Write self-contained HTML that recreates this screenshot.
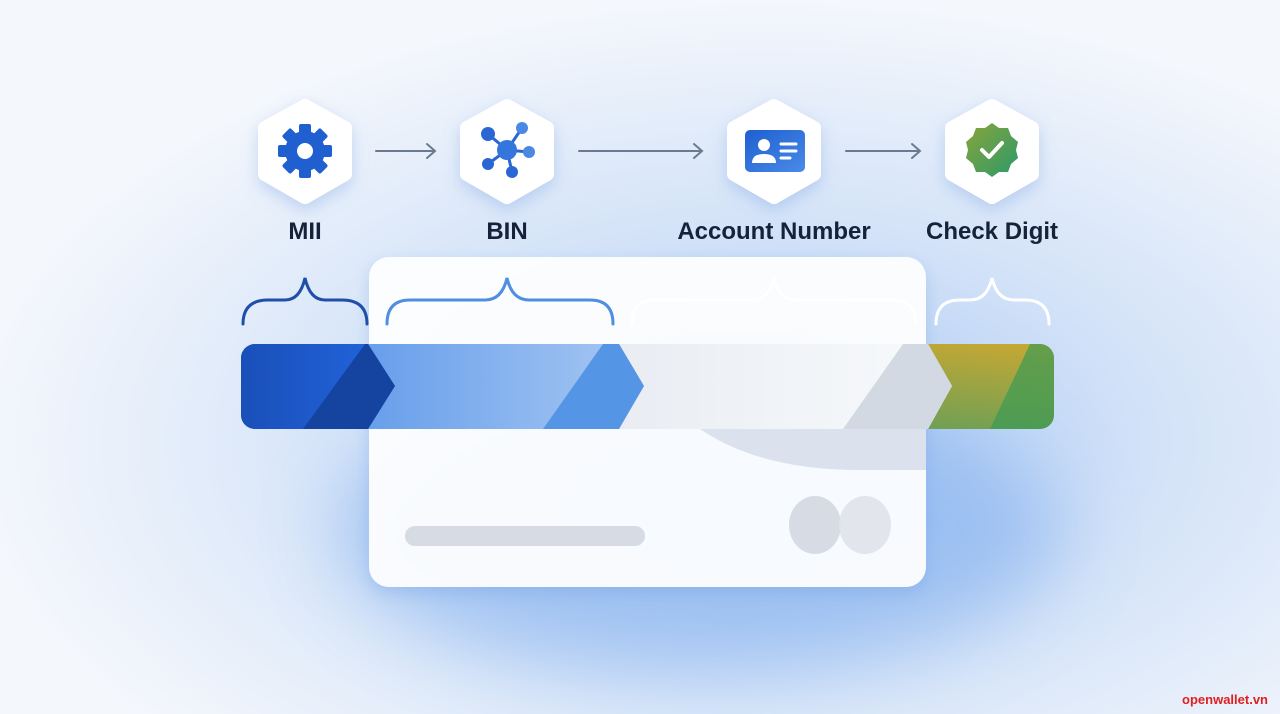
<!DOCTYPE html>
<html><head><meta charset="utf-8"><style>
html,body{margin:0;padding:0;width:1280px;height:714px;overflow:hidden}
body{background:#eef3fb;font-family:"Liberation Sans",sans-serif}
</style></head><body>
<svg width="1280" height="714" viewBox="0 0 1280 714" xmlns="http://www.w3.org/2000/svg">
<defs>
<radialGradient id="bg" cx="0.6" cy="0.62" r="0.62">
<stop offset="0" stop-color="#a8c8f4"/><stop offset="0.5" stop-color="#d4e3f8"/><stop offset="1" stop-color="#f4f7fc"/></radialGradient>
<filter id="blur" x="-50%" y="-50%" width="200%" height="200%"><feGaussianBlur stdDeviation="40"/></filter>
<filter id="sh" x="-50%" y="-50%" width="200%" height="200%"><feDropShadow dx="0" dy="6" stdDeviation="8" flood-color="#6d9be0" flood-opacity="0.35"/></filter>
<linearGradient id="mii" x1="0" x2="1"><stop offset="0" stop-color="#1a4fb8"/><stop offset="1" stop-color="#2266e0"/></linearGradient>
<linearGradient id="bin" x1="0" x2="1"><stop offset="0" stop-color="#4a8ce8"/><stop offset="1" stop-color="#a8c8f2"/></linearGradient>
<linearGradient id="acc" x1="0" x2="1"><stop offset="0" stop-color="#d8dee8"/><stop offset="1" stop-color="#f8fafc"/></linearGradient>
<linearGradient id="chk" x1="0" y1="1" x2="1" y2="0"><stop offset="0" stop-color="#2c9a6e"/><stop offset="1" stop-color="#c9a832"/></linearGradient>
<linearGradient id="badge" x1="0" y1="0" x2="1" y2="1"><stop offset="0" stop-color="#8aa43a"/><stop offset="1" stop-color="#2a9a6a"/></linearGradient>
<linearGradient id="idc" x1="0" y1="0" x2="1" y2="1"><stop offset="0" stop-color="#1d5fd0"/><stop offset="1" stop-color="#4a8ae8"/></linearGradient>
<clipPath id="barclip"><rect x="241" y="344" width="813" height="85" rx="14"/></clipPath>
</defs>
<rect width="1280" height="714" fill="url(#bg)"/>
<ellipse cx="700" cy="530" rx="360" ry="140" fill="#8fb8f0" opacity="0.75" filter="url(#blur)"/>

<!-- card -->
<rect x="369" y="257" width="557" height="330" rx="20" fill="#ffffff" opacity="0.93" filter="url(#sh)"/>
<rect x="405" y="526" width="240" height="20" rx="10" fill="#d6dbe4"/>
<ellipse cx="815" cy="525" rx="26" ry="29" fill="#d6dbe4"/>
<ellipse cx="865" cy="525" rx="26" ry="29" fill="#dfe3ea" opacity="0.9"/>
<path d="M700 429 Q760 470 860 470 L926 470 L926 429 Z" fill="#c8d2e2" opacity="0.6"/>

<!-- bar -->
<g clip-path="url(#barclip)">
<rect x="241" y="344" width="813" height="85" fill="url(#chk)"/>
<polygon points="1054,344 1030,344 990,429 1054,429" fill="#3a9a56" opacity="0.7"/>
<polygon points="241,344 928,344 952,386 928,429 241,429" fill="url(#acc)"/>
<polygon points="903,344 928,344 952,386 928,429 843,429" fill="#d3d9e2"/>
<polygon points="241,344 619,344 644,386 619,429 241,429" fill="url(#bin)"/>
<polygon points="603,344 619,344 644,386 619,429 543,429" fill="#5595e6"/>
<polygon points="241,344 368,344 395,386 368,429 241,429" fill="url(#mii)"/>
<polygon points="365,344 368,344 395,386 368,429 303,429" fill="#1444a0"/>
</g>

<!-- braces -->
<g fill="none" stroke-width="3" stroke-linecap="round">
<path d="M243 324 Q243 300 268 300 L285 300 Q300 300 305 278 Q310 300 325 300 L342 300 Q367 300 367 324" stroke="#1f4fa8"/>
<path d="M387 324 Q387 300 410 300 L485 300 Q502 300 507 278 Q512 300 529 300 L590 300 Q613 300 613 324" stroke="#4f8ee0"/>
<path d="M632 324 Q632 300 655 300 L752 300 Q769 300 774 278 Q779 300 796 300 L893 300 Q916 300 916 324" stroke="#ffffff"/>
<path d="M936 324 Q936 300 960 300 L970 300 Q987 300 992 278 Q997 300 1014 300 L1025 300 Q1049 300 1049 324" stroke="#ffffff"/>
</g>

<!-- arrows -->
<g stroke="#6b7a90" stroke-width="2" fill="none" stroke-linecap="round">
<path d="M376 151 H435 M427 144 L435 151 L427 158"/>
<path d="M579 151 H702 M694 144 L702 151 L694 158"/>
<path d="M846 151 H920 M912 144 L920 151 L912 158"/>
</g>

<!-- hexagons -->
<g fill="#ffffff" filter="url(#sh)" stroke="#ffffff" stroke-width="14" stroke-linejoin="round">
<polygon points="305,106 345,128 345,174 305,197 265,174 265,128"/>
<polygon points="507,106 547,128 547,174 507,197 467,174 467,128"/>
<polygon points="774,106 814,128 814,174 774,197 734,174 734,128"/>
<polygon points="992,106 1032,128 1032,174 992,197 952,174 952,128"/>
</g>
<!-- gear -->
<g transform="translate(305,151)" fill="#1f5fd0">
<g>
<rect x="-6" y="-27" width="12" height="54" rx="2"/>
<rect x="-6" y="-27" width="12" height="54" rx="2" transform="rotate(45)"/>
<rect x="-6" y="-27" width="12" height="54" rx="2" transform="rotate(90)"/>
<rect x="-6" y="-27" width="12" height="54" rx="2" transform="rotate(135)"/>
</g>
<circle r="20"/>
<circle r="8" fill="#fff"/>
</g>
<!-- network -->
<g stroke="#2a66d4" stroke-width="3" fill="#2a66d4">
<line x1="507" y1="150" x2="488" y2="134"/><line x1="507" y1="150" x2="522" y2="128"/><line x1="507" y1="150" x2="529" y2="152"/><line x1="507" y1="150" x2="512" y2="172"/><line x1="507" y1="150" x2="488" y2="164"/>
<circle cx="507" cy="150" r="10" stroke="none" fill="#3476dc"/>
<circle cx="488" cy="134" r="7" stroke="none"/><circle cx="522" cy="128" r="6" stroke="none" fill="#4a88e4"/><circle cx="529" cy="152" r="6" stroke="none" fill="#4a88e4"/><circle cx="512" cy="172" r="6" stroke="none"/><circle cx="488" cy="164" r="6" stroke="none"/>
</g>
<!-- id card -->
<rect x="745" y="130" width="60" height="42" rx="5" fill="url(#idc)"/>
<circle cx="764" cy="145" r="6" fill="#fff"/>
<path d="M752 163 Q752 154 764 154 Q776 154 776 163 Z" fill="#fff"/>
<g stroke="#fff" stroke-width="3" stroke-linecap="round"><line x1="781" y1="144" x2="796" y2="144"/><line x1="781" y1="151" x2="796" y2="151"/><line x1="781" y1="158" x2="790" y2="158"/></g>
<!-- badge -->
<g transform="translate(992,150)">
<polygon fill="url(#badge)" points="0,-27 7,-22 16,-22 19,-14 26,-8 24,0 26,8 19,14 16,22 7,22 0,27 -7,22 -16,22 -19,14 -26,8 -24,0 -26,-8 -19,-14 -16,-22 -7,-22"/>
<path d="M-10 0 L-3 7 L10 -7" stroke="#fff" stroke-width="4" fill="none" stroke-linecap="round" stroke-linejoin="round"/>
</g>

<!-- labels -->
<g font-family="Liberation Sans, sans-serif" font-size="24" font-weight="bold" fill="#16223a" text-anchor="middle">
<text x="305" y="239">MII</text>
<text x="507" y="239">BIN</text>
<text x="774" y="239">Account Number</text>
<text x="992" y="239">Check Digit</text>
</g>
<text x="1268" y="704" font-family="Liberation Sans, sans-serif" font-size="13" font-weight="bold" fill="#e02020" text-anchor="end">openwallet.vn</text>
</svg>
</body></html>
